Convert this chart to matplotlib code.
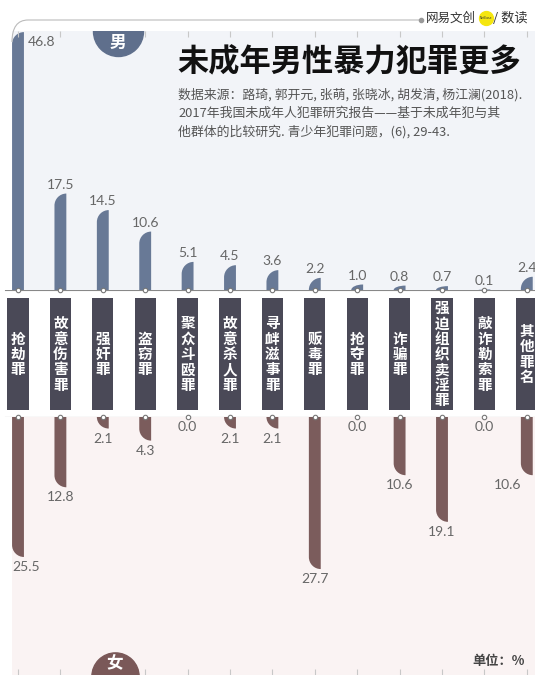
import matplotlib
matplotlib.use("Agg")
import matplotlib.pyplot as plt
from matplotlib.path import Path
from matplotlib.patches import PathPatch
from matplotlib.transforms import Affine2D

# data (share of offenders by crime, %)
categories = ["抢劫罪", "故意伤害罪", "强奸罪", "盗窃罪", "聚众斗殴罪", "故意杀人罪",
              "寻衅滋事罪", "贩毒罪", "抢夺罪", "诈骗罪", "强迫组织卖淫罪",
              "敲诈勒索罪", "其他罪名"]
male = [46.8, 17.5, 14.5, 10.6, 5.1, 4.5, 3.6, 2.2, 1.0, 0.8, 0.7, 0.1, 2.4]
female = [25.5, 12.8, 2.1, 4.3, 0.0, 2.1, 2.1, 27.7, 0.0, 10.6, 19.1, 0.0, 10.6]

title = "未成年男性暴力犯罪更多"
source = ["数据来源：路琦, 郭开元, 张萌, 张晓冰, 胡发清, 杨江澜(2018).",
          "2017年我国未成年人犯罪研究报告——基于未成年犯与其",
          "他群体的比较研究. 青少年犯罪问题，(6), 29-43."]

CJK = ["Noto Sans CJK SC", "DejaVu Sans"]
NUM = ["Lato", "DejaVu Sans"]
MALE_C = "#687996"
FEMALE_C = "#7b5c5c"
BOX_C = "#4a4957"

W, H = 535, 675
fig = plt.figure(figsize=(W / 100, H / 100), dpi=100)
fig.patch.set_facecolor("white")
# pixel coords (origin top-left) -> figure
px = Affine2D().scale(1 / W, -1 / H).translate(0, 1) + fig.transFigure


def box(x0, y0, x1, y1):
    return [x0 / W, 1 - y1 / H, (x1 - x0) / W, (y1 - y0) / H]


step = 42.4   # px between bars
x0px = 18     # px of first bar centre
ymax = 47.0
hw = 0.14     # half bar width (data units)

ax_m = fig.add_axes(box(12, 31, 535, 290))
ax_f = fig.add_axes(box(12, 417, 535, 675))
ax_c = fig.add_axes(box(0, 290, 535, 417))

xr = (535 - x0px) / step
ax_m.set_xlim((12 - x0px) / step, xr)
ax_f.set_xlim((12 - x0px) / step, xr)
ax_c.set_xlim(-x0px / step, xr)
ax_m.set_ylim(0, ymax)
ax_f.set_ylim(ymax, 0)
ax_c.set_ylim(0, 1)

ax_m.set_facecolor("#f2f4f8")
ax_f.set_facecolor("#faf3f3")
ax_c.set_facecolor("none")

xs = list(range(len(categories)))
ry_full = 12 / ((259) / ymax)  # corner radius ~12px in data units
k = 0.5523


def rounded_bar(ax, x, h, color):
    if h <= 0:
        return
    l, r = x - hw, x + hw
    ry = min(ry_full, h)
    w = r - l
    verts = [(l, 0), (l, h - ry), (l, h - ry + k * ry), (r - k * w, h), (r, h),
             (r, 0), (l, 0)]
    codes = [Path.MOVETO, Path.LINETO, Path.CURVE4, Path.CURVE4, Path.CURVE4,
             Path.LINETO, Path.CLOSEPOLY]
    ax.add_patch(PathPatch(Path(verts, codes), facecolor=color, edgecolor="none"))


for x, v in zip(xs, male):
    rounded_bar(ax_m, x, v, MALE_C)
for x, v in zip(xs, female):
    rounded_bar(ax_f, x, v, FEMALE_C)

lab = dict(fontsize=10, color="#666666", family=NUM)
for i, (x, v) in enumerate(zip(xs, male)):
    if i == 0:
        ax_m.annotate(f"{v:.1f}", (x + hw, v), xytext=(3, -3), textcoords="offset points",
                      ha="left", va="top", **lab)
    else:
        ax_m.annotate(f"{v:.1f}", (x, v), xytext=(0, 2), textcoords="offset points",
                      ha="center", va="bottom", annotation_clip=False, **lab)
for i, (x, v) in enumerate(zip(xs, female)):
    if i == 0:
        ax_f.annotate(f"{v:.1f}", (x - hw, v), xytext=(0, -3), textcoords="offset points",
                      ha="left", va="top", **lab)
    elif i == len(xs) - 1:
        ax_f.annotate(f"{v:.1f}", (x - hw, v), xytext=(0, -3), textcoords="offset points",
                      ha="right", va="top", **lab)
    else:
        ax_f.annotate(f"{v:.1f}", (x, v), xytext=(0, -3), textcoords="offset points",
                      ha="center", va="top", **lab)

# ticks on outer edges
for ax, top in ((ax_m, True), (ax_f, False)):
    ax.set_xticks(xs)
    ax.set_yticks([])
    ax.tick_params(axis="x", top=top, bottom=not top, direction="in", length=4,
                   color="#c8c8c8", labelbottom=False, labeltop=False)
    for s in ax.spines.values():
        s.set_visible(False)

# centre: category boxes
ax_c.axis("off")
ax_c.bar(xs, 0.885, bottom=0.055, width=0.5, color=BOX_C)
for x, name in zip(xs, categories):
    ax_c.text(x, 0.497, "\n".join(name), ha="center", va="center", color="white",
              fontsize=10.5, family=CJK, weight="bold", linespacing=0.95)
ax_c.axhline(1, xmin=5 / W, color="#888888", lw=0.8)
ax_c.axhline(0, xmin=5 / W, color="#888888", lw=0.8)
for yy in (1, 0):
    ax_c.plot(xs, [yy] * len(xs), "o", ms=3.2, mfc="white", mec="#777777", mew=0.8,
              clip_on=False, zorder=5)

# gender badges
ax_m.plot([0.203], [1.0], "o", ms=36, color="#5f6f8c", transform=ax_m.transAxes)
ax_m.text(0.203, 0.955, "男", transform=ax_m.transAxes, ha="center", va="center",
          color="white", fontsize=12, family=CJK, weight="bold")
ax_f.plot([0.197], [-0.005], "o", ms=34, color="#7a5858", transform=ax_f.transAxes)
ax_f.text(0.197, 0.044, "女", transform=ax_f.transAxes, ha="center", va="center",
          color="white", fontsize=12, family=CJK, weight="bold")

# title block
fig.text(177, 62, title, transform=px, ha="left", va="center", fontsize=22.5,
         weight="bold", family=CJK, color="#111111")
for j, line in enumerate(source):
    fig.text(178, 95 + j * 18.5, line, transform=px, ha="left", va="center",
             fontsize=9.3, family=CJK, color="#555555")

# top frame line with rounded corner
frame = Path([(12, 42), (12, 20), (28, 20), (420, 20)],
             [Path.MOVETO, Path.CURVE3, Path.CURVE3, Path.LINETO])
fig.add_artist(PathPatch(frame, transform=px, facecolor="none", edgecolor="#bbbbbb", lw=0.8))
fig.add_artist(plt.Line2D([421], [20], marker="o", ms=3, color="#999999", transform=px))
fig.text(426, 18, "网易文创", transform=px, ha="left", va="center", fontsize=9,
         family=CJK, color="#333333")
fig.add_artist(plt.Line2D([486], [18], marker="o", ms=10, color="#f5e60f", transform=px))
fig.text(486, 18, "NetEase", transform=px, ha="center", va="center", fontsize=2.2,
         color="#333333")
fig.text(493, 18, "/ 数读", transform=px, ha="left", va="center", fontsize=9.5,
         family=CJK, color="#333333")

fig.text(525, 661, "单位：%", transform=px, ha="right", va="center", fontsize=9.5,
         family=CJK, color="#444444", weight="bold")

fig.savefig("out.png", dpi=100)
